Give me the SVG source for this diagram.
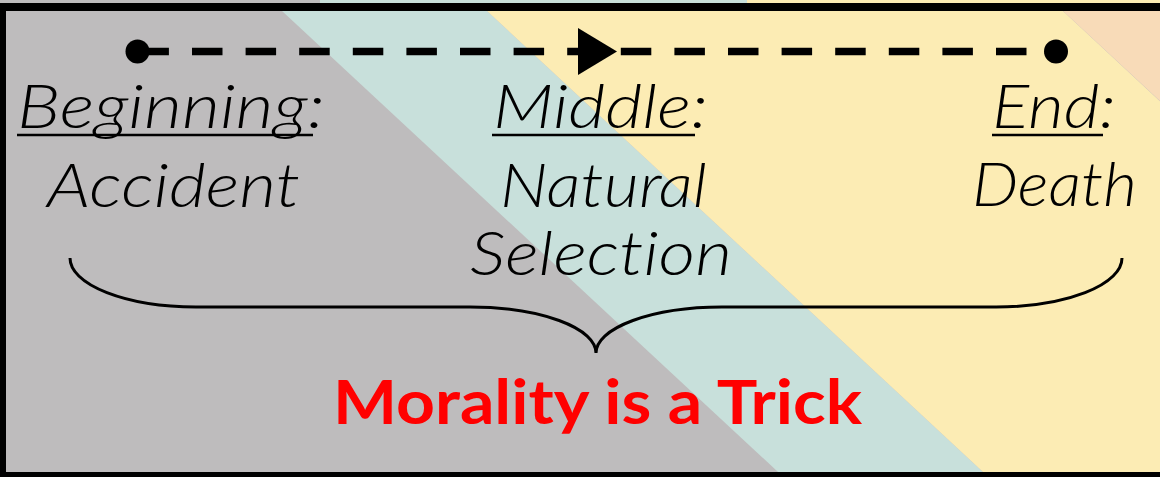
<svg xmlns="http://www.w3.org/2000/svg" width="1160" height="477" viewBox="0 0 1160 477">
  <style>
    .lbl { font-family: Lato, "Noto Sans", "DejaVu Sans", sans-serif; font-style: italic; font-weight: 300; font-size: 61px; fill: #000; font-variant-ligatures: none; font-feature-settings: "liga" 0, "dlig" 0; }
    .ul { stroke: #000; stroke-width: 2.5; }
    .dash { stroke: #000; stroke-width: 7.5; stroke-dasharray: 30.5 23.1; fill: none; }
    .brace { stroke: #000; stroke-width: 3; fill: none; }
    .red { font-family: Lato, "Liberation Sans", sans-serif; font-weight: bold; font-size: 61px; fill: #ff0000; font-variant-ligatures: none; }
  </style>
  <g id="background">
    <rect x="0" y="0" width="1160" height="477" fill="#bebcbd"/>
    <polygon points="270.2,0 475.2,0 988.4,477 783.4,477" fill="#c8e0db"/>
    <polygon points="475.2,0 1051.2,0 1564,477 988.4,477" fill="#fcecb4"/>
    <polygon points="1051.2,0 1160,0 1160,101.1" fill="#f8dbb8"/>
    <rect x="0" y="0" width="320" height="4" fill="#bebcbd"/>
    <rect x="320" y="0" width="427" height="4" fill="#c8e0db"/>
    <rect x="747" y="0" width="413" height="4" fill="#fcecb4"/>
    <rect x="2" y="7" width="1170" height="469" fill="none" stroke="#000" stroke-width="8"/>
  </g>
  <g id="connectors">
    <line class="dash" x1="138.4" y1="51.5" x2="1056" y2="51.5"/>
    <polygon points="578,28 617,51.5 578,75" fill="#000"/>
    <circle cx="137.5" cy="51.5" r="12" fill="#000"/>
    <circle cx="1056" cy="51.5" r="12" fill="#000"/>
  </g>
  <g id="beginning">
    <text class="lbl" x="17" y="128" textLength="308" lengthAdjust="spacingAndGlyphs">Beginning:</text>
    <line class="ul" x1="17" y1="135" x2="313" y2="135"/>
    <text class="lbl" x="47" y="207" textLength="253" lengthAdjust="spacingAndGlyphs">Accident</text>
  </g>
  <g id="middle">
    <text class="lbl" x="493" y="128" textLength="215" lengthAdjust="spacingAndGlyphs">Middle:</text>
    <line class="ul" x1="492" y1="135" x2="695" y2="135"/>
    <text class="lbl" x="500" y="207" textLength="207" lengthAdjust="spacingAndGlyphs">Natural</text>
    <text class="lbl" x="470" y="275" textLength="262" lengthAdjust="spacingAndGlyphs">Selection</text>
  </g>
  <g id="end">
    <text class="lbl" x="992" y="128" textLength="124" lengthAdjust="spacingAndGlyphs">End:</text>
    <line class="ul" x1="992" y1="135" x2="1103" y2="135"/>
    <text class="lbl" x="972" y="206" textLength="165" lengthAdjust="spacingAndGlyphs">Death</text>
  </g>
  <g id="brace">
    <path class="brace" d="M70,258 A126,49 0 0 0 196,307 L470,307 A126,46 0 0 1 596,353 A126,46 0 0 1 722,307 L996,307 A126,49 0 0 0 1122,258"/>
  </g>
  <g id="conclusion">
    <text class="red" x="333" y="424" textLength="529" lengthAdjust="spacingAndGlyphs">Morality is a Trick</text>
  </g>
</svg>
